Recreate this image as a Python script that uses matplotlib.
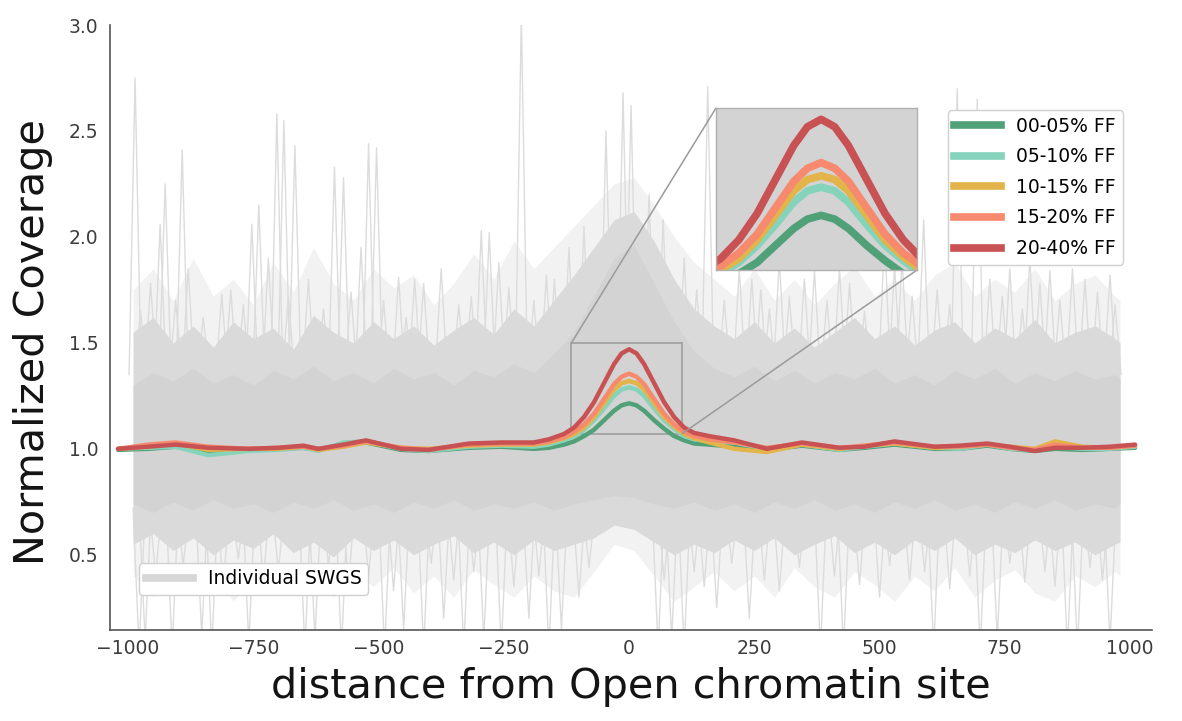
import numpy as np
import matplotlib
matplotlib.use("Agg")
import matplotlib.pyplot as plt
from matplotlib.lines import Line2D
from mpl_toolkits.axes_grid1.inset_locator import mark_inset

# ---------------- data ----------------
# distance grid for the group mean profiles
dist = [-1020, -960, -905, -840, -760, -700, -650, -620, -570, -525, -455, -400,
        -320, -255, -190, -160, -130, -110, -90, -70, -50, -30, -15, 0, 15, 30,
        50, 70, 90, 110, 130, 160, 210, 275, 345, 420, 470, 530, 610, 660, 715,
        760, 810, 850, 905, 960, 1010]

ff_00_05 = [0.995, 1.00, 1.01, 0.985, 0.995, 1.00, 1.005, 0.995, 1.025, 1.03,
            0.995, 0.99, 1.005, 1.01, 1.00, 1.005, 1.02, 1.035, 1.06, 1.09,
            1.135, 1.18, 1.205, 1.215, 1.205, 1.18, 1.135, 1.095, 1.06, 1.04,
            1.025, 1.02, 1.01, 0.995, 1.015, 0.995, 1.005, 1.02, 1.00, 1.00,
            1.015, 1.00, 0.99, 1.00, 0.995, 1.00, 1.005]
ff_05_10 = [1.00, 1.005, 1.01, 0.97, 0.99, 0.995, 1.005, 0.99, 1.03, 1.035,
            1.00, 0.99, 1.01, 1.015, 1.01, 1.02, 1.04, 1.06, 1.09, 1.135,
            1.19, 1.25, 1.28, 1.29, 1.28, 1.25, 1.19, 1.135, 1.095, 1.06,
            1.045, 1.035, 1.03, 1.00, 1.02, 0.995, 1.01, 1.025, 1.005, 1.00,
            1.02, 1.00, 0.995, 1.01, 1.00, 1.00, 1.01]
ff_10_15 = [1.00, 1.01, 1.025, 0.995, 1.00, 1.00, 1.01, 0.995, 1.01, 1.03,
            1.005, 1.00, 1.015, 1.02, 1.02, 1.03, 1.05, 1.07, 1.10, 1.15,
            1.215, 1.28, 1.31, 1.32, 1.31, 1.28, 1.215, 1.15, 1.105, 1.07,
            1.05, 1.03, 1.00, 0.985, 1.02, 1.00, 1.015, 1.025, 1.005, 1.01,
            1.02, 1.01, 1.00, 1.035, 1.01, 1.005, 1.015]
ff_15_20 = [1.00, 1.02, 1.03, 1.01, 1.00, 1.005, 1.01, 1.00, 1.015, 1.035,
            1.005, 0.995, 1.02, 1.025, 1.025, 1.035, 1.055, 1.08, 1.115, 1.165,
            1.235, 1.305, 1.34, 1.355, 1.34, 1.305, 1.235, 1.165, 1.115, 1.08,
            1.06, 1.045, 1.03, 1.005, 1.025, 1.005, 1.015, 1.03, 1.01, 1.01,
            1.02, 1.005, 0.995, 1.02, 1.005, 1.005, 1.015]
ff_20_40 = [1.00, 1.01, 1.02, 1.005, 1.00, 1.005, 1.015, 1.00, 1.02, 1.04,
            1.00, 0.995, 1.025, 1.03, 1.03, 1.045, 1.07, 1.10, 1.15, 1.22,
            1.31, 1.40, 1.45, 1.47, 1.45, 1.40, 1.31, 1.22, 1.15, 1.10,
            1.075, 1.06, 1.04, 1.00, 1.03, 1.005, 1.01, 1.035, 1.01, 1.015,
            1.025, 1.01, 0.99, 1.005, 1.005, 1.01, 1.02]

group_labels = ["00-05% FF", "05-10% FF", "10-15% FF", "15-20% FF", "20-40% FF"]
group_values = [ff_00_05, ff_05_10, ff_10_15, ff_15_20, ff_20_40]
group_colors = ["#50a078", "#86d3bc", "#e2b44a", "#f78a6e", "#c85253"]

# envelope of the individual SWGS profiles
env_x = [-990, -950, -910, -870, -830, -790, -750, -710, -670, -630, -590, -550,
         -510, -470, -430, -390, -350, -310, -270, -230, -190, -150, -110, -70,
         -30, 10, 50, 90, 130, 170, 210, 250, 290, 330, 370, 410, 450, 490, 530,
         570, 610, 650, 690, 730, 770, 810, 850, 890, 930, 970, 980]
core_hi = [1.30, 1.36, 1.32, 1.38, 1.31, 1.35, 1.30, 1.37, 1.33, 1.39, 1.32, 1.36,
           1.31, 1.38, 1.33, 1.36, 1.30, 1.37, 1.34, 1.40, 1.36, 1.45, 1.55, 1.72,
           1.90, 1.96, 1.78, 1.60, 1.46, 1.38, 1.34, 1.39, 1.32, 1.37, 1.31, 1.36,
           1.33, 1.38, 1.31, 1.35, 1.30, 1.37, 1.33, 1.38, 1.31, 1.36, 1.32, 1.37,
           1.33, 1.35, 1.33]
core_lo = [0.74, 0.70, 0.75, 0.71, 0.76, 0.72, 0.74, 0.70, 0.75, 0.72, 0.76, 0.71,
           0.74, 0.70, 0.75, 0.72, 0.76, 0.71, 0.74, 0.72, 0.75, 0.71, 0.74, 0.76,
           0.78, 0.77, 0.74, 0.72, 0.75, 0.71, 0.74, 0.70, 0.75, 0.72, 0.76, 0.71,
           0.74, 0.70, 0.75, 0.72, 0.76, 0.71, 0.74, 0.70, 0.75, 0.72, 0.76, 0.71,
           0.74, 0.72, 0.74]
mid_hi = [1.55, 1.62, 1.50, 1.58, 1.48, 1.60, 1.52, 1.57, 1.47, 1.63, 1.55, 1.50,
          1.60, 1.52, 1.58, 1.49, 1.56, 1.62, 1.54, 1.66, 1.58, 1.70, 1.82, 1.95,
          2.08, 2.12, 1.98, 1.80, 1.66, 1.58, 1.52, 1.60, 1.50, 1.57, 1.48, 1.55,
          1.62, 1.52, 1.58, 1.49, 1.56, 1.60, 1.50, 1.57, 1.52, 1.61, 1.50, 1.55,
          1.58, 1.52, 1.50]
mid_lo = [0.55, 0.60, 0.52, 0.58, 0.50, 0.57, 0.53, 0.60, 0.51, 0.56, 0.49, 0.58,
          0.52, 0.57, 0.50, 0.55, 0.59, 0.51, 0.56, 0.50, 0.57, 0.52, 0.55, 0.58,
          0.64, 0.62, 0.56, 0.50, 0.55, 0.51, 0.57, 0.52, 0.58, 0.50, 0.55, 0.59,
          0.51, 0.56, 0.50, 0.57, 0.52, 0.58, 0.50, 0.55, 0.51, 0.57, 0.52, 0.56,
          0.50, 0.55, 0.56]
outer_hi = [1.75, 1.85, 1.70, 1.90, 1.72, 1.80, 1.68, 1.88, 1.74, 1.95, 1.78, 1.70,
            1.85, 1.76, 1.82, 1.68, 1.78, 1.92, 1.80, 1.98, 1.85, 1.95, 2.05, 2.15,
            2.25, 2.28, 2.15, 2.00, 1.88, 1.80, 1.72, 1.85, 1.70, 1.80, 1.68, 1.78,
            1.86, 1.72, 1.80, 1.70, 1.82, 1.88, 1.72, 1.80, 1.74, 1.85, 1.70, 1.78,
            1.82, 1.72, 1.70]
outer_lo = [0.40, 0.30, 0.45, 0.35, 0.42, 0.28, 0.40, 0.33, 0.45, 0.36, 0.30, 0.42,
            0.35, 0.44, 0.32, 0.40, 0.30, 0.43, 0.36, 0.30, 0.40, 0.33, 0.30, 0.42,
            0.55, 0.52, 0.40, 0.28, 0.35, 0.42, 0.33, 0.40, 0.30, 0.44, 0.35, 0.30,
            0.42, 0.36, 0.28, 0.40, 0.33, 0.44, 0.30, 0.38, 0.43, 0.32, 0.28, 0.40,
            0.35, 0.42, 0.40]

# single profiles that stand out above / below the bulk
peak_x = [-986, -936, -926, -892, -813, -753, -739, -703, -689, -667, -588, -570,
          -520, -504, -460, -428, -295, -279, -215, -149, -46, -12, 4, 68, 157,
          220, 263, 300, 350, 420, 510, 545, 588, 655, 695, 760, 800, 840, 910, 960]
peak_y = [2.75, 2.06, 2.25, 2.41, 1.73, 2.06, 2.15, 2.58, 2.55, 2.43, 2.33, 2.28,
          2.44, 2.42, 1.81, 1.80, 2.03, 2.02, 3.05, 1.80, 2.50, 2.68, 2.62, 2.08,
          2.71, 1.85, 1.75, 1.90, 1.80, 1.85, 2.00, 1.90, 2.08, 2.70, 2.65, 1.85,
          1.90, 1.84, 1.80, 1.82]
streak_x = [-975, -955, -905, -880, -850, -795, -770, -720, -680, -640, -610, -555,
            -535, -490, -445, -410, -375, -340, -315, -260, -240, -190, -165, -120,
            -90, 40, 110, 135, 190, 245, 280, 320, 370, 395, 440, 470, 530, 565,
            615, 640, 720, 745, 785, 820, 860, 885, 935, 970]
streak_y = [1.65, 1.78, 1.70, 1.85, 1.62, 1.75, 1.68, 1.90, 1.72, 1.80, 1.66, 1.74,
            1.95, 1.70, 1.62, 1.78, 1.85, 1.68, 1.72, 1.88, 1.76, 1.70, 1.82, 1.95,
            2.05, 2.20, 1.90, 1.75, 1.70, 1.80, 1.66, 1.72, 1.84, 1.70, 1.78, 1.65,
            1.86, 1.72, 1.75, 1.68, 1.80, 1.72, 1.66, 1.78, 1.70, 1.85, 1.74, 1.68]
dip_x = [-978, -966, -912, -853, -833, -759, -647, -627, -574, -488, -450, -410,
         -370, -330, -290, -255, -200, -160, -135, 58, 85, 110, 175, 240, 382, 428,
         500, 608, 701, 735, 875, 895, 960]
dip_y = [0.05, 0.10, 0.05, 0.12, 0.05, 0.08, 0.05, 0.10, 0.05, 0.05, 0.15, 0.05,
         0.20, 0.05, 0.10, 0.05, 0.20, 0.05, 0.15, 0.05, 0.10, 0.05, 0.25, 0.20,
         0.05, 0.05, 0.30, 0.05, 0.05, 0.10, 0.05, 0.05, 0.08]
low_streak_x = [-945, -890, -810, -780, -730, -700, -600, -560, -520, -470, -395,
                -350, -310, -230, -180, -100, -80, 70, 130, 150, 205, 270, 300, 340,
                410, 460, 520, 560, 590, 640, 680, 760, 790, 830, 850, 920, 945]
low_streak_y = [0.40, 0.45, 0.35, 0.48, 0.38, 0.42, 0.45, 0.36, 0.40, 0.33, 0.46,
                0.38, 0.42, 0.35, 0.40, 0.30, 0.44, 0.38, 0.42, 0.35, 0.46, 0.38,
                0.33, 0.44, 0.40, 0.36, 0.45, 0.38, 0.42, 0.34, 0.40, 0.46, 0.37,
                0.42, 0.35, 0.44, 0.38]

x_ticks = [-1000, -750, -500, -250, 0, 250, 500, 750, 1000]
y_ticks = [0.5, 1.0, 1.5, 2.0, 2.5, 3.0]

# ---------------- figure ----------------
fig = plt.figure(figsize=(11.82, 7.21), dpi=100)
ax = fig.add_axes([0.0931, 0.1262, 0.8816, 0.8391])

# individual SWGS bulk
ax.fill_between(env_x, outer_lo, outer_hi, color="#f2f2f2", lw=0, zorder=1)
ax.fill_between(env_x, mid_lo, mid_hi, color="#dadada", lw=0, zorder=1.1)
ax.fill_between(env_x, core_lo, core_hi, color="#d3d3d3", lw=0, zorder=1.2)

half_w = 12
for xs, ys, base in ((peak_x, peak_y, 1.35), (streak_x, streak_y, 1.35),
                     (dip_x, dip_y, 0.72), (low_streak_x, low_streak_y, 0.72)):
    for px, py in zip(xs, ys):
        ax.plot([px - half_w, px, px + half_w], [base, py, base],
                color="#dcdcdc", lw=1.0, zorder=1.05)

# group means
for vals, col in zip(group_values, group_colors):
    ax.plot(dist, vals, color=col, lw=3.2, solid_capstyle="round",
            solid_joinstyle="round", zorder=5)

ax.set_xlim(-1036, 1044)
ax.set_ylim(0.145, 3.0)
ax.set_xticks(x_ticks)
ax.set_yticks(y_ticks)
ax.tick_params(axis="both", length=0, labelsize=13.5, colors="#3c3c3c")
ax.tick_params(axis="x", pad=6.5)
ax.tick_params(axis="y", pad=8.5)
for side in ("top", "right"):
    ax.spines[side].set_visible(False)
for side in ("left", "bottom"):
    ax.spines[side].set_color("#555555")
    ax.spines[side].set_linewidth(1.2)

ax.set_xlabel("distance from Open chromatin site", fontsize=29.8, color="#141414")
ax.set_ylabel("Normalized Coverage", fontsize=29.8, color="#141414")
ax.xaxis.set_label_coords(0.5, -0.061)
ax.yaxis.set_label_coords(-0.055, 0.476)

# legends
group_handles = [Line2D([0], [0], color=c, lw=5.5) for c in group_colors]
leg1 = ax.legend(group_handles, group_labels, loc="upper left",
                 bbox_to_anchor=(0.804, 0.8595), borderaxespad=0, fontsize=13.5,
                 handlelength=2.5, handletextpad=0.8, borderpad=0.35,
                 labelspacing=0.62, frameon=True, fancybox=True, framealpha=1,
                 edgecolor="#d0d0d0")
leg1.set_zorder(10)
ax.add_artist(leg1)
swgs_handle = [Line2D([0], [0], color="#d6d6d6", lw=5.5)]
leg2 = ax.legend(swgs_handle, ["Individual SWGS"], loc="lower left",
                 bbox_to_anchor=(0.028, 0.058), borderaxespad=0, fontsize=13.5,
                 handlelength=2.5, handletextpad=0.8, borderpad=0.35,
                 frameon=True, fancybox=True, framealpha=1, edgecolor="#d0d0d0")
leg2.set_zorder(10)

# zoomed view of the peak
axins = fig.add_axes([716 / 1182, 1 - 270 / 721, 201 / 1182, 162 / 721])
axins.set_facecolor("#d3d3d3")
for vals, col in zip(group_values, group_colors):
    axins.plot(dist, vals, color=col, lw=5.5, solid_capstyle="round",
               solid_joinstyle="round")
axins.set_xlim(-115, 105)
axins.set_ylim(1.07, 1.5)
axins.set_xticks([])
axins.set_yticks([])
for sp in axins.spines.values():
    sp.set_color("#b0b0b0")
    sp.set_linewidth(1.0)

box, c1, c2 = mark_inset(ax, axins, loc1=2, loc2=4, fc="none", ec="#9a9a9a", lw=1.1)
box.set_zorder(4)

fig.savefig("out.png", dpi=100)
